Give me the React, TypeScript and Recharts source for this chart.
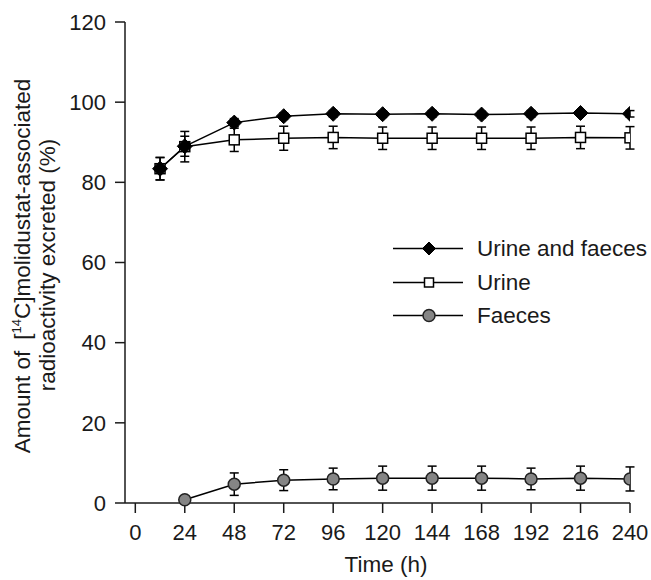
import React from "react";
import { LineChart, Line, XAxis, YAxis, ErrorBar, Legend } from "recharts";

// Sampling times (h)
const times = [12, 24, 48, 72, 96, 120, 144, 168, 192, 216, 240];

// Urine and faeces (cumulative %)
const combined = [83.4, 89.0, 94.9, 96.5, 97.1, 97.0, 97.1, 96.9, 97.1, 97.3, 97.1];
const combinedErr = [2.8, 2.5, 1.0, 0.8, 0.8, 0.8, 0.8, 0.8, 0.8, 0.8, 0.8];

// Urine
const urine = [83.4, 88.9, 90.6, 91.0, 91.2, 91.0, 91.0, 91.0, 91.0, 91.2, 91.1];
const urineErr = [2.8, 3.8, 2.9, 3.0, 2.8, 2.8, 2.8, 2.8, 2.8, 2.8, 2.8];

// Faeces (no sample at 12 h)
const faecesTimes = [24, 48, 72, 96, 120, 144, 168, 192, 216, 240];
const faeces = [0.8, 4.7, 5.7, 6.0, 6.2, 6.2, 6.2, 6.0, 6.2, 6.0];
const faecesErr = [0, 2.8, 2.6, 2.7, 3.0, 3.0, 3.0, 2.7, 3.0, 3.0];

const xTicks = [0, 24, 48, 72, 96, 120, 144, 168, 192, 216, 240];
const yTicks = [0, 20, 40, 60, 80, 100, 120];

const seriesNames = ["Urine and faeces", "Urine", "Faeces"];

const FONT = "'Liberation Sans', Arial, Helvetica, sans-serif";
const INK = "#1a1a1a";

const combinedData = times.map((t, i) => ({ t, v: combined[i], e: combinedErr[i] }));
const urineData = times.map((t, i) => ({ t, v: urine[i], e: urineErr[i] }));
const faecesData = faecesTimes.map((t, i) => ({ t, v: faeces[i], e: faecesErr[i] }));

function Diamond({ cx, cy, r = 7.5 }: { cx: number; cy: number; r?: number }) {
  return (
    <polygon
      points={`${cx},${cy - r} ${cx + r},${cy} ${cx},${cy + r} ${cx - r},${cy}`}
      fill="#000"
      stroke="#000"
      strokeWidth={1}
    />
  );
}

function Square({ cx, cy, s = 10 }: { cx: number; cy: number; s?: number }) {
  return (
    <rect
      x={cx - s / 2}
      y={cy - s / 2}
      width={s}
      height={s}
      fill="#fff"
      stroke="#000"
      strokeWidth={1.5}
    />
  );
}

function Circle({ cx, cy, r = 6 }: { cx: number; cy: number; r?: number }) {
  return <circle cx={cx} cy={cy} r={r} fill="#858585" stroke="#222" strokeWidth={1.5} />;
}

const markers = [
  (cx: number, cy: number) => <Diamond cx={cx} cy={cy} />,
  (cx: number, cy: number) => <Square cx={cx} cy={cy} />,
  (cx: number, cy: number) => <Circle cx={cx} cy={cy} />,
];

const makeDot = (idx: number) => (props: any) => {
  const { cx, cy, index } = props;
  if (cx == null || cy == null) return <g key={index} />;
  return <g key={index}>{markers[idx](cx, cy)}</g>;
};

const renderLegend = () => (
  <div style={{ fontFamily: FONT, fontSize: 22.5, color: INK }}>
    {seriesNames.map((name, i) => (
      <div key={name} style={{ display: "flex", alignItems: "center", height: 33.5 }}>
        <svg width={87} height={33} style={{ display: "block" }}>
          <line x1={3} y1={16.5} x2={73} y2={16.5} stroke="#000" strokeWidth={1.5} />
          {i === 0 && <Diamond cx={39} cy={16.5} r={6.5} />}
          {i === 1 && <Square cx={39} cy={16.5} s={9} />}
          {i === 2 && <Circle cx={39} cy={16.5} r={6} />}
        </svg>
        <span style={{ lineHeight: "33px", whiteSpace: "nowrap" }}>{name}</span>
      </div>
    ))}
  </div>
);

const renderYLabel = () => (
  <g fontFamily={FONT} fontSize={22.5} fill={INK}>
    <text x={30} y={266} textAnchor="middle" transform="rotate(-90, 30, 266)">
      <tspan>Amount of</tspan>
      <tspan dx={11}>[</tspan>
      <tspan fontSize={13} dy={-9}>14</tspan>
      <tspan dy={9}>C]molidustat-associated</tspan>
    </text>
    <text x={55} y={265} textAnchor="middle" transform="rotate(-90, 55, 265)">
      radioactivity excreted (%)
    </text>
  </g>
);

const renderXLabel = () => (
  <text x={386} y={572} textAnchor="middle" fontFamily={FONT} fontSize={22.5} fill={INK}>
    Time (h)
  </text>
);

export default function App() {
  return (
    <div style={{ position: "absolute", left: 0, top: 0, width: 651, height: 580, background: "#fff" }}>
      <LineChart width={651} height={580} margin={{ top: 22, right: 21, bottom: 0, left: 0 }}>
        <XAxis
          dataKey="t"
          type="number"
          domain={[-5, 240]}
          ticks={xTicks}
          allowDataOverflow
          height={77}
          tickSize={10}
          tickMargin={11}
          axisLine={{ stroke: INK, strokeWidth: 1.5 }}
          tickLine={{ stroke: INK, strokeWidth: 1.5 }}
          tick={{ fontFamily: FONT, fontSize: 22, fill: INK }}
          label={{ content: renderXLabel }}
        />
        <YAxis
          type="number"
          domain={[0, 120]}
          ticks={yTicks}
          width={125}
          tickSize={10}
          tickMargin={9}
          axisLine={{ stroke: INK, strokeWidth: 1.5 }}
          tickLine={{ stroke: INK, strokeWidth: 1.5 }}
          tick={{ fontFamily: FONT, fontSize: 22, fill: INK }}
          label={{ content: renderYLabel }}
        />
        <Legend
          layout="vertical"
          align="center"
          verticalAlign="middle"
          content={renderLegend}
          wrapperStyle={{ left: 390, top: 232, width: 261 }}
        />
        <Line
          data={faecesData}
          dataKey="v"
          name="Faeces"
          stroke="#000"
          strokeWidth={1.5}
          dot={makeDot(2)}
          isAnimationActive={false}
        >
          <ErrorBar dataKey="e" direction="y" width={4.5} stroke="#000" strokeWidth={1.5} />
        </Line>
        <Line
          data={urineData}
          dataKey="v"
          name="Urine"
          stroke="#000"
          strokeWidth={1.5}
          dot={makeDot(1)}
          isAnimationActive={false}
        >
          <ErrorBar dataKey="e" direction="y" width={4.5} stroke="#000" strokeWidth={1.5} />
        </Line>
        <Line
          data={combinedData}
          dataKey="v"
          name="Urine and faeces"
          stroke="#000"
          strokeWidth={1.5}
          dot={makeDot(0)}
          isAnimationActive={false}
        >
          <ErrorBar dataKey="e" direction="y" width={4.5} stroke="#000" strokeWidth={1.5} />
        </Line>
      </LineChart>
    </div>
  );
}
